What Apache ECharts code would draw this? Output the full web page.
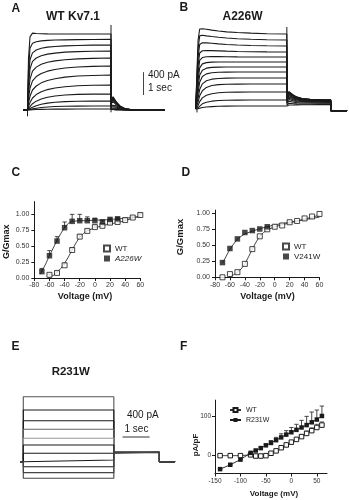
<!DOCTYPE html>
<html><head><meta charset="utf-8">
<script src="https://cdn.jsdelivr.net/npm/echarts@6/dist/echarts.min.js"></script>
<style>html,body{margin:0;padding:0;background:#fff}#c{width:349px;height:500px}</style>
</head><body><div id="c"></div>
<script>
// ---------- Panel A: WT Kv7.1 current traces (time s, current pA) ----------
const timeA = [-0.18, 0, 0.04, 0.1, 0.2, 0.35, 0.55, 0.8, 1.1, 1.5, 2.0, 2.6, 3.34, 3.345, 3.42, 3.55, 3.7, 3.9, 4.2, 5.5];
const tracesA = [
  [0,0,900,1280,1345,1340,1335,1332,1330,1330,1330,1330,1330,160,230,140,70,22,4,0],
  [0,0,700,1080,1170,1195,1210,1218,1224,1228,1232,1234,1236,155,225,135,68,21,4,0],
  [0,0,550,880,1000,1050,1080,1100,1112,1122,1130,1135,1138,150,215,130,65,20,4,0],
  [0,0,420,720,850,910,950,978,996,1012,1022,1029,1033,140,200,120,60,19,3,0],
  [0,0,300,540,680,750,800,835,860,880,895,904,910,125,180,108,54,17,3,0],
  [0,0,200,380,510,585,640,680,710,735,752,763,770,105,150,90,45,14,3,0],
  [0,0,120,240,350,420,475,515,548,575,594,605,612,85,120,72,36,11,2,0],
  [0,0,60,130,210,270,320,357,385,408,424,433,438,60,85,51,25,8,2,0],
  [0,0,25,60,110,155,192,222,245,262,273,278,280,38,55,33,16,5,1,0],
  [0,0,10,25,50,75,100,120,135,146,153,156,158,20,30,18,9,3,1,0],
  [0,0,4,10,20,32,44,53,60,65,68,69,70,8,12,7,4,1,0,0],
  [0,0,1,3,5,8,11,13,15,16,17,18,18,2,3,2,1,0,0,0]
];
const stepEndA = 3.34, spikeA = [-40, 1487];

// ---------- Panel B: A226W current traces ----------
const timeB = [-0.05, 0, 0.04, 0.1, 0.2, 0.35, 0.55, 0.8, 1.1, 1.5, 2.0, 2.6, 3.34, 3.345, 3.42, 3.55, 3.7, 3.9, 4.2, 4.6, 4.97, 4.975, 5.58];
const tracesB = [
  [0,0,1200,1400,1405,1395,1380,1365,1350,1338,1327,1318,1312,260,305,255,212,185,170,165,162,-30,-30],
  [0,0,1050,1280,1290,1280,1268,1255,1242,1230,1220,1212,1207,250,298,250,208,182,168,163,160,-30,-30],
  [0,0,900,1130,1160,1158,1150,1140,1130,1120,1112,1106,1102,240,290,243,203,178,165,160,158,-30,-30],
  [0,0,750,980,1020,1025,1022,1018,1012,1006,1002,999,997,228,280,235,197,173,160,156,154,-30,-30],
  [0,0,620,850,900,915,918,916,914,912,911,910,910,215,268,225,190,168,156,152,150,-30,-30],
  [0,0,500,720,790,812,820,822,822,822,822,822,822,200,250,212,180,160,150,147,145,-30,-30],
  [0,0,380,590,680,715,728,733,735,735,735,735,735,185,232,198,170,152,143,140,138,-30,-30],
  [0,0,280,470,570,615,635,643,646,647,647,647,647,168,212,183,158,143,136,134,132,-30,-30],
  [0,0,190,340,440,495,522,535,540,542,542,542,542,150,190,165,145,133,128,126,125,-30,-30],
  [0,0,120,230,320,378,410,426,433,436,437,437,437,130,165,146,130,122,118,117,116,-30,-30],
  [0,0,60,130,195,240,268,284,292,296,297,297,297,105,135,122,112,106,104,103,102,-30,-30],
  [0,0,25,55,90,118,137,148,154,156,157,157,157,75,100,95,90,88,87,86,86,-30,-30],
  [0,0,6,14,25,35,42,47,50,52,52,52,52,50,70,70,72,74,75,76,76,-30,-30]
];
const stepEndB = 3.34, spikeB = [200, 1435];

// ---------- Panel E: R231W current traces ----------
const timesE = [-0.12, 0, 3.34, 5.02, 5.6];
const stepsE = [1137, 905, 717, 567, 410, 292, 147, 30, -88, -192, -290];
const tailsE = [168, 166, 165, 164, 164, 163, 163, 162, 162, 161, 161];

// ---------- Panel C: G/Gmax, WT vs A226W ----------
const voltC_WT = [-60, -50, -40, -30, -20, -10, 0, 10, 20, 30, 40, 50, 60];
const gC_WT    = [0.05, 0.08, 0.2, 0.44, 0.65, 0.74, 0.8, 0.82, 0.87, 0.88, 0.91, 0.95, 0.99];
const errC_WT  = [0.01, 0.02, 0.03, 0.03, 0.03, 0.02, 0.02, 0.02, 0.02, 0.02, 0.02, 0.02, 0.02];
const voltC_MUT = [-70, -60, -50, -40, -30, -20, -10, 0, 10, 20, 30];
const gC_MUT    = [0.1, 0.35, 0.58, 0.79, 0.89, 0.9, 0.9, 0.9, 0.88, 0.92, 0.93];
const errC_MUT  = [0.05, 0.08, 0.07, 0.09, 0.11, 0.1, 0.06, 0.04, 0.03, 0.02, 0.02];
const fitVoltC_WT = [-62, -55, -50, -45, -40, -35, -30, -25, -20, -15, -10, 0, 10, 20, 30, 40, 50, 60];
const fitC_WT     = [0.0, 0.04, 0.09, 0.15, 0.23, 0.33, 0.44, 0.55, 0.64, 0.7, 0.74, 0.79, 0.82, 0.85, 0.87, 0.9, 0.94, 0.98];
const fitVoltC_MUT = [-72, -65, -60, -55, -50, -45, -40, -35, -30, -20, -10, 0, 10, 20, 30, 40, 50, 60];
const fitC_MUT     = [0.06, 0.22, 0.35, 0.47, 0.59, 0.7, 0.79, 0.86, 0.89, 0.9, 0.9, 0.91, 0.91, 0.92, 0.93, 0.94, 0.95, 0.96];

// ---------- Panel D: G/Gmax, WT vs V241W ----------
const voltD_WT = [-70, -60, -50, -40, -30, -20, -10, 0, 10, 20, 30, 40, 50, 60];
const gD_WT    = [0.0, 0.05, 0.08, 0.21, 0.44, 0.64, 0.75, 0.79, 0.81, 0.86, 0.88, 0.92, 0.95, 0.99];
const voltD_MUT = [-70, -60, -50, -40, -30, -20, -10];
const gD_MUT    = [0.23, 0.45, 0.6, 0.7, 0.73, 0.755, 0.79];
const fitVoltD_WT = [-62, -55, -50, -45, -40, -35, -30, -25, -20, -15, -10, 0, 10, 20, 30, 40, 50, 60];
const fitD_WT     = [0.0, 0.04, 0.08, 0.13, 0.21, 0.32, 0.44, 0.55, 0.64, 0.7, 0.74, 0.79, 0.82, 0.85, 0.88, 0.91, 0.94, 0.97];
const fitVoltD_MUT = [-70, -60, -50, -40, -30, -20, -10, 0, 10, 20, 30, 40, 50, 60];
const fitD_MUT     = [0.22, 0.44, 0.6, 0.68, 0.72, 0.76, 0.79, 0.82, 0.84, 0.86, 0.88, 0.9, 0.92, 0.94];

// ---------- Panel F: I-V, WT vs R231W ----------
const voltF_WT = [-140, -120, -100, -80, -70, -60, -50, -40, -30, -20, -10, 0, 10, 20, 30, 40, 50, 60];
const iF_WT    = [0, 0, 0, 2, -1, -1, 0, 6, 12, 20, 27, 34, 41, 48, 56, 63, 71, 77];
const errF_WT  = [0, 0, 0, 1, 1, 1, 1, 2, 2, 3, 3, 4, 4, 5, 6, 7, 8, 8];
const voltF_MUT = [-140, -120, -100, -80, -70, -60, -50, -40, -30, -20, -10, 0, 10, 20, 30, 40, 50, 60];
const iF_MUT    = [-34, -23, -10, 7, 13, 19, 26, 32, 39, 46, 53, 59, 65, 71, 77, 84, 91, 100];
const errF_MUT  = [0, 0, 0, 0, 1, 2, 3, 6, 7, 9, 10, 12, 14, 18, 22, 26, 24, 25];

// ---------- scale bars ----------
const scaleAmp = 400, scaleTime = 1;

const FONT = '"Liberation Sans", Arial, Helvetica, sans-serif';
const INK = '#1a1a1a';

const grids = [
  {left: 20, top: 20, width: 150, height: 100},          // A
  {left: 190, top: 20, width: 159, height: 100},         // B
  {left: 34.3, top: 201.6, width: 106, height: 76.4},    // C
  {left: 215, top: 210.1, width: 104.5, height: 67.2},   // D
  {left: 15, top: 385, width: 165, height: 100},         // E
  {left: 215, top: 400.1, width: 112, height: 73.4}      // F
].map(g => Object.assign({outerBoundsMode: 'none', containLabel: false}, g));

const hiddenX = (i, min, max) => ({gridIndex: i, type: 'value', min, max, show: false});
const hiddenY = hiddenX;

const tickLbl = {fontSize: 7, color: '#333', fontFamily: FONT};
const axLine = {show: true, onZero: false, lineStyle: {color: INK, width: 1}};
const axTick = {show: true, length: 3, lineStyle: {color: INK, width: 1}};

const xAxes = [
  hiddenX(0, -0.3, 5.7),
  hiddenX(1, -0.26, 5.65),
  {gridIndex: 2, type: 'value', min: -80, max: 60, interval: 20, axisLine: axLine, axisTick: axTick,
    axisLabel: Object.assign({margin: 4}, tickLbl), splitLine: {show: false}},
  {gridIndex: 3, type: 'value', min: -80, max: 60, interval: 20, axisLine: axLine, axisTick: axTick,
    axisLabel: Object.assign({margin: 4}, tickLbl), splitLine: {show: false}},
  hiddenX(4, -0.306, 5.78),
  {gridIndex: 5, type: 'value', min: -150, max: 70, axisLine: axLine,
    axisTick: Object.assign({customValues: [-150, -100, -50, 0, 50]}, axTick),
    axisLabel: Object.assign({margin: 4, customValues: [-150, -100, -50, 0, 50]}, tickLbl, {fontSize: 6.5}),
    splitLine: {show: false}}
];
const gTicks = [0, 0.25, 0.5, 0.75, 1];
const yAxes = [
  hiddenY(0, -175, 1575),
  hiddenY(1, -192.5, 1557.5),
  {gridIndex: 2, type: 'value', min: 0, max: 1.2, axisLine: axLine,
    axisTick: Object.assign({customValues: gTicks}, axTick),
    axisLabel: Object.assign({margin: 5, customValues: gTicks, formatter: v => v.toFixed(2)}, tickLbl),
    splitLine: {show: false}},
  {gridIndex: 3, type: 'value', min: 0, max: 1.05, axisLine: axLine,
    axisTick: Object.assign({customValues: gTicks}, axTick),
    axisLabel: Object.assign({margin: 5, customValues: gTicks, formatter: v => v.toFixed(2)}, tickLbl),
    splitLine: {show: false}},
  hiddenY(4, -408, 1342),
  {gridIndex: 5, type: 'value', min: -45, max: 140, axisLine: axLine,
    axisTick: Object.assign({customValues: [0, 100]}, axTick),
    axisLabel: Object.assign({margin: 4, customValues: [0, 100]}, tickLbl, {fontSize: 6.5}),
    splitLine: {show: false}}
];

const series = [];
const traceLine = (g, data, color, width, extra) => Object.assign({
  type: 'line', xAxisIndex: g, yAxisIndex: g, data, symbol: 'none', silent: true,
  lineStyle: {color: color || INK, width: width || 1.1}, z: 2
}, extra || {});

// A traces
tracesA.forEach(tr => series.push(traceLine(0, timeA.map((t, i) => [t, tr[i]]), INK, 1.1)));
series.push(traceLine(0, [[stepEndA, spikeA[0]], [stepEndA, spikeA[1]]], INK, 1));
series.push(traceLine(0, [[0, -110], [0, 0]], INK, 1));
series.push(traceLine(0, [[4.64, 262], [4.64, 262 + scaleAmp]], '#444', 1));

// B traces
tracesB.forEach(tr => series.push(traceLine(1, timeB.map((t, i) => [t, tr[i]]), INK, 1.1)));
series.push(traceLine(1, [[stepEndB, spikeB[0]], [stepEndB, spikeB[1]]], INK, 1));
series.push(traceLine(1, [[0, -60], [0, 0]], INK, 1));

// E traces
const eColors = ['#555', INK, INK, '#666', '#999', INK, INK, INK, INK, '#444', '#444'];
stepsE.forEach((v, k) => {
  const d = [[timesE[0], 0], [timesE[1], 0], [timesE[1], v], [timesE[2], v], [timesE[2], tailsE[k]],
             [timesE[3], tailsE[k]], [timesE[3], 0], [timesE[4], 0]];
  series.push(traceLine(4, d, eColors[k], 1.1));
});
series.push(traceLine(4, [[3.66, 432], [3.66 + scaleTime, 432]], '#333', 1));

// error bar helper
function errBars(g, xs, ys, es, color) {
  return {
    type: 'custom', xAxisIndex: g, yAxisIndex: g, silent: true, z: 3,
    data: xs.map((x, i) => [x, ys[i], ys[i] + es[i]]),
    renderItem: (params, api) => {
      const p = api.coord([api.value(0), api.value(1)]);
      const q = api.coord([api.value(0), api.value(2)]);
      return {type: 'group', children: [
        {type: 'line', shape: {x1: p[0], y1: p[1], x2: p[0], y2: q[1]}, style: {stroke: color, lineWidth: 0.9}},
        {type: 'line', shape: {x1: p[0] - 2.2, y1: q[1], x2: p[0] + 2.2, y2: q[1]}, style: {stroke: color, lineWidth: 0.9}}
      ]};
    }
  };
}
const fitLine = (g, xs, ys) => ({type: 'line', xAxisIndex: g, yAxisIndex: g, silent: true, symbol: 'none', z: 2,
  data: xs.map((x, i) => [x, ys[i]]), lineStyle: {color: '#333', width: 0.9}});
const openSq = {color: '#fff', borderColor: INK, borderWidth: 1};
const fillSq = {color: INK};

// C
series.push(fitLine(2, fitVoltC_WT, fitC_WT));
series.push(fitLine(2, fitVoltC_MUT, fitC_MUT));
series.push(errBars(2, voltC_WT, gC_WT, errC_WT, '#333'));
series.push(errBars(2, voltC_MUT, gC_MUT, errC_MUT, '#333'));
series.push({name: 'WT', type: 'scatter', xAxisIndex: 2, yAxisIndex: 2, symbol: 'rect', symbolSize: 5, z: 4,
  itemStyle: openSq, data: voltC_WT.map((x, i) => [x, gC_WT[i]])});
series.push({name: 'A226W', type: 'scatter', xAxisIndex: 2, yAxisIndex: 2, symbol: 'rect', symbolSize: 5.5, z: 4,
  itemStyle: fillSq, data: voltC_MUT.map((x, i) => [x, gC_MUT[i]])});

// D
series.push(fitLine(3, fitVoltD_WT, fitD_WT));
series.push(fitLine(3, fitVoltD_MUT, fitD_MUT));
series.push({name: 'WT ', type: 'scatter', xAxisIndex: 3, yAxisIndex: 3, symbol: 'rect', symbolSize: 5, z: 4,
  itemStyle: openSq, data: voltD_WT.map((x, i) => [x, gD_WT[i]])});
series.push({name: 'V241W', type: 'scatter', xAxisIndex: 3, yAxisIndex: 3, symbol: 'rect', symbolSize: 5.5, z: 4,
  itemStyle: fillSq, data: voltD_MUT.map((x, i) => [x, gD_MUT[i]])});

// F
series.push(errBars(5, voltF_WT, iF_WT, errF_WT, '#555'));
series.push(errBars(5, voltF_MUT, iF_MUT, errF_MUT, '#333'));
series.push({name: 'WT  ', type: 'line', xAxisIndex: 5, yAxisIndex: 5, symbol: 'rect', symbolSize: 4.5, z: 4,
  showAllSymbol: true, itemStyle: openSq, lineStyle: {color: '#333', width: 0.9},
  data: voltF_WT.map((x, i) => [x, iF_WT[i]])});
series.push({name: 'R231W', type: 'line', xAxisIndex: 5, yAxisIndex: 5, symbol: 'rect', symbolSize: 4.5, z: 5,
  showAllSymbol: true, itemStyle: fillSq, lineStyle: {color: INK, width: 0.9},
  data: voltF_MUT.map((x, i) => [x, iF_MUT[i]])});

const txt = (text, x, y, size, opts) => Object.assign({
  type: 'text', x, y, silent: true,
  style: Object.assign({text, font: (opts && opts.weight || 'bold') + ' ' + size + 'px ' + FONT, fill: INK,
    textAlign: (opts && opts.align) || 'left', textVerticalAlign: 'middle'}, (opts && opts.style) || {})
}, (opts && opts.rot) ? {rotation: opts.rot} : {});

const graphic = [
  txt('A', 11.5, 8.5, 12), txt('B', 179.5, 8, 12), txt('C', 11.5, 172.5, 12),
  txt('D', 181.5, 172.5, 12), txt('E', 11.5, 346.5, 12), txt('F', 180, 347, 12),
  txt('WT Kv7.1', 73, 17, 12, {align: 'center'}),
  txt('A226W', 242.5, 17, 12, {align: 'center'}),
  txt('R231W', 70.8, 372, 11.5, {align: 'center'}),
  txt('400 pA', 148, 75.5, 10, {weight: 'normal'}),
  txt('1 sec', 148, 88.5, 10, {weight: 'normal'}),
  txt('400 pA', 127, 415.5, 10, {weight: 'normal'}),
  txt('1 sec', 124.5, 429.5, 10, {weight: 'normal'}),
  txt('G/Gmax', 6.5, 241.7, 9, {align: 'center', rot: Math.PI / 2}),
  txt('Voltage (mV)', 85, 297, 9, {align: 'center'}),
  txt('G/Gmax', 180.5, 237, 9.5, {align: 'center', rot: Math.PI / 2}),
  txt('Voltage (mV)', 267.5, 297, 9, {align: 'center'}),
  txt('pA/pF', 196, 445, 8, {align: 'center', rot: Math.PI / 2}),
  txt('Voltage (mV)', 274, 494, 8, {align: 'center'})
];

const legendBase = {orient: 'vertical', selectedMode: false, itemGap: 2, itemWidth: 6, itemHeight: 6,
  textStyle: {fontSize: 8, color: '#222', fontFamily: FONT, padding: [0, 0, 0, 0]}, padding: 0};
const legends = [
  Object.assign({}, legendBase, {left: 103, top: 244.5, data: ['WT', {name: 'A226W', textStyle: {fontStyle: 'italic'}}]}),
  Object.assign({}, legendBase, {left: 282, top: 242.5, data: ['WT ', 'V241W']}),
  Object.assign({}, legendBase, {left: 229, top: 406.5, itemWidth: 11, itemHeight: 5, itemGap: 3,
    textStyle: {fontSize: 7, color: '#222', fontFamily: FONT}, data: ['WT  ', 'R231W']})
];

const chart = echarts.init(document.getElementById('c'), null, {renderer: 'canvas'});
chart.setOption({
  animation: false,
  backgroundColor: '#fff',
  grid: grids,
  xAxis: xAxes,
  yAxis: yAxes,
  legend: legends,
  graphic: graphic,
  series: series
});
</script>
</body></html>
